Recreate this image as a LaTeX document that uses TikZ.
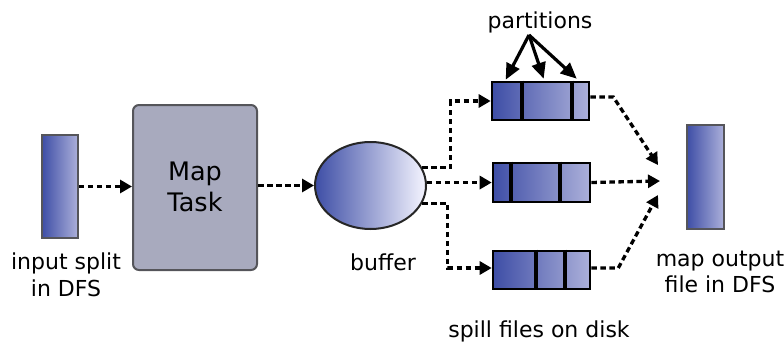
\documentclass[tikz,border=0pt]{standalone}
\usepackage{fontspec}
\setmainfont{DejaVu Sans}
\usetikzlibrary{arrows.meta,calc,shapes.geometric}
\definecolor{dblue}{RGB}{62,78,166}
\definecolor{lblue}{RGB}{172,176,218}
\definecolor{mapfill}{RGB}{168,170,190}
\definecolor{edgegray}{RGB}{85,85,90}
\begin{document}
\begin{tikzpicture}[x=1pt,y=-1pt,
  lbl/.style={font=\fontsize{22}{26.5}\selectfont, align=center, inner sep=0pt},
  filebox/.style={draw=edgegray, line width=1.8pt, left color=dblue, right color=lblue, inner sep=0pt, minimum width=36pt, minimum height=103pt},
  spill/.style={draw=black, line width=2.6pt, left color=dblue, right color=lblue, inner sep=0pt, minimum width=97pt, minimum height=38pt},
  divider/.style={line width=3.8pt, black},
  flow/.style={line width=3.3pt, dash pattern=on 5.5pt off 3.5pt, -{Triangle[length=12pt,width=13pt]}},
  solidarrow/.style={line width=3.2pt, -{Triangle[length=16pt,width=14pt]}}]
\useasboundingbox (0,0) rectangle (784,345);

% input split
\node[filebox] (in) at (60,186.5) {};
\node[lbl] (inl) at (66,275) {input split\\in DFS};

% map task
\node[draw=edgegray, line width=2pt, fill=mapfill, rounded corners=6pt, minimum width=124pt, minimum height=165pt, inner sep=0pt] (map) at (195,187.5) {};
\node[lbl, font=\fontsize{25.5}{31}\selectfont] (mapl) at (195,187) {Map\\Task};

% buffer
\node[ellipse, draw=black!85, line width=2pt, left color=dblue, right color=white!96!blue, minimum width=111pt, minimum height=87pt, inner sep=0pt] (buf) at (370.5,185.5) {};
\node[lbl] (bufl) at (383,262) {buffer};

% spill files
\node[spill] (sA) at (540.5,101) {};
\node[spill, minimum height=39pt] (sB) at (541.5,182.5) {};
\node[spill] (sC) at (541.5,270) {};
\draw[divider] ([xshift=31pt]sA.north west) -- ([xshift=31pt]sA.south west);
\draw[divider] ([xshift=81pt]sA.north west) -- ([xshift=81pt]sA.south west);
\draw[divider] ([xshift=19pt]sB.north west) -- ([xshift=19pt]sB.south west);
\draw[divider] ([xshift=68pt]sB.north west) -- ([xshift=68pt]sB.south west);
\draw[divider] ([xshift=44pt]sC.north west) -- ([xshift=44pt]sC.south west);
\draw[divider] ([xshift=73pt]sC.north west) -- ([xshift=73pt]sC.south west);
\node[lbl] (spl) at (539,331) {spill files on disk};

% partitions
\node[lbl] (part) at (540,22) {partitions};
\coordinate (p0) at (529,35);
\draw[solidarrow] (p0) -- ($(sA.north west)+(15,-1)$);
\draw[solidarrow] (p0) -- ($(sA.north west)+(53,-2)$);
\draw[solidarrow] (p0) -- ($(sA.north west)+(86,-2)$);

% output
\node[filebox, minimum width=37pt, minimum height=104pt] (out) at (705.5,177) {};
\node[lbl] (outl) at (720,272) {map output\\file in DFS};

% connectors
\draw[flow] (in.east) -- (in.east -| map.west);
\draw[flow] ($(map.east)+(0,-2)$) -- (buf.west);
\draw[flow] (buf.19) -| ($(sA.west)+(-40,0)$) -- (sA.west);
\draw[flow] (buf.3) -- (buf.3 -| sB.west);
\draw[flow] (buf.-19) -| ($(sC.west)+(-44,-2)$) -- ($(sC.west)+(0,-2)$);

\coordinate (t1) at (658,165);
\coordinate (t2) at (660,181);
\coordinate (t3) at (658,195);
\draw[flow] ($(sA.east)+(0,-4)$) -- ++(23,0) -- (t1);
\draw[flow] (sB.east) -- (t2);
\draw[flow] ($(sC.east)+(0,-2)$) -- ++(27,0) -- (t3);
\end{tikzpicture}
\end{document}
